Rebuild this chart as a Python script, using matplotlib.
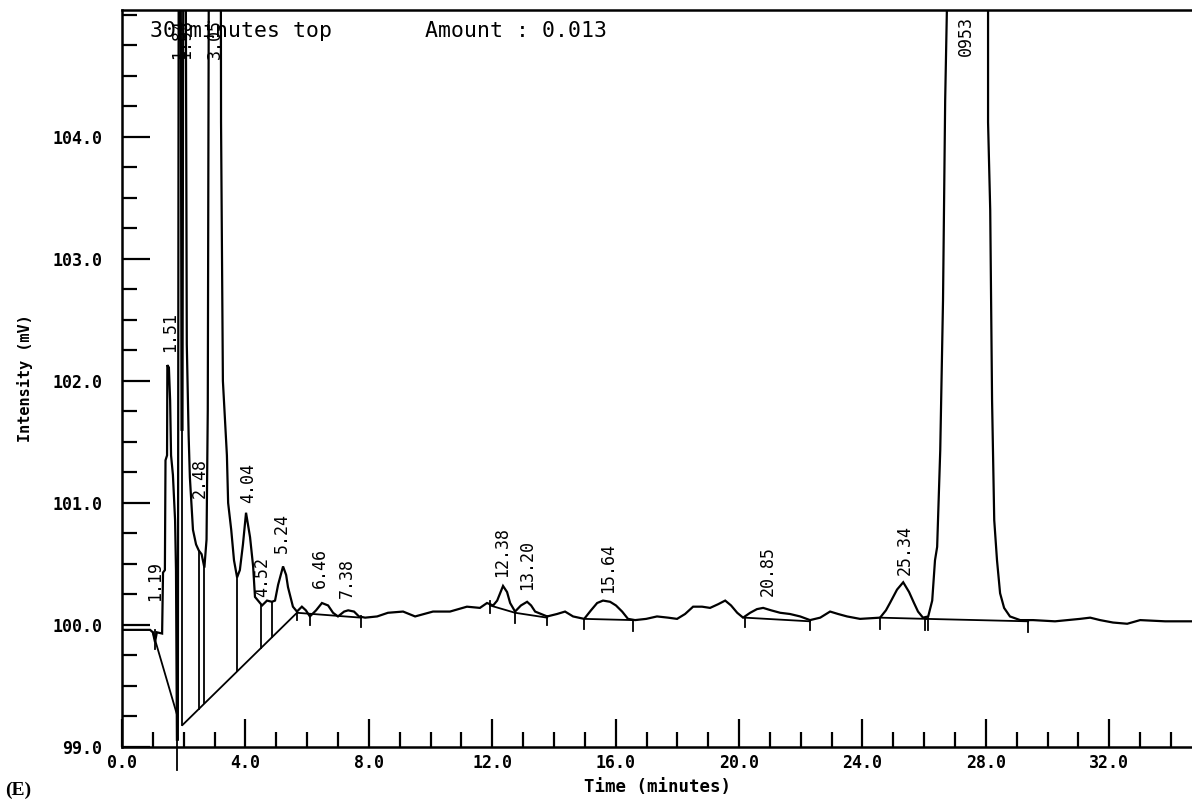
import matplotlib
matplotlib.use("Agg")
import matplotlib.pyplot as plt
from matplotlib.ticker import MultipleLocator, FixedLocator

# ---------------- data ----------------
trace_t = [0.0, 0.91, 1.00, 1.07, 1.13, 1.30, 1.33, 1.39, 1.41, 1.46, 1.47, 1.52, 1.56, 1.59,
           1.65, 1.72, 1.75, 1.78, 1.81, 1.84, 1.90, 1.93, 1.96, 1.99, 2.06, 2.10, 2.16, 2.20,
           2.30, 2.40, 2.49, 2.58, 2.67, 2.74, 2.78, 2.82, 3.20, 3.21, 3.27, 3.40, 3.44, 3.54,
           3.63, 3.73, 3.82, 3.92, 4.02, 4.15, 4.25, 4.31, 4.54, 4.70, 4.86, 4.96, 5.06, 5.22,
           5.32, 5.38, 5.54, 5.67, 5.83, 5.96, 6.09, 6.29, 6.48, 6.68, 6.84, 7.00, 7.20, 7.33,
           7.52, 7.68, 7.88, 8.27, 8.62, 9.11, 9.50, 10.08, 10.63, 11.18, 11.60, 11.83, 12.03,
           12.16, 12.35, 12.48, 12.58, 12.74, 12.93, 13.13, 13.26, 13.39, 13.78, 14.10, 14.36,
           14.62, 14.98, 15.20, 15.40, 15.59, 15.82, 16.01, 16.21, 16.40, 16.63, 16.99, 17.34,
           17.70, 17.99, 18.25, 18.51, 18.80, 19.06, 19.32, 19.55, 19.74, 19.94, 20.13, 20.36,
           20.58, 20.78, 21.04, 21.33, 21.65, 21.98, 22.30, 22.63, 22.95, 23.21, 23.50, 23.92,
           24.57, 24.76, 24.89, 25.12, 25.32, 25.51, 25.67, 25.80, 25.96, 26.13, 26.26, 26.35,
           26.42, 26.52, 26.61, 26.68, 26.74, 27.40, 28.07, 28.07, 28.14, 28.20, 28.27, 28.36,
           28.46, 28.59, 28.78, 29.11, 29.53, 30.24, 31.05, 31.38, 31.70, 32.12, 32.58, 33.00,
           33.81, 34.68]
trace_v = [99.96, 99.96, 99.94, 99.86, 99.94, 99.93, 100.43, 100.45, 101.35, 101.39, 102.13,
           102.11, 101.84, 101.39, 101.23, 100.86, 100.45, 99.06, 99.06, 106.0, 106.0, 101.6,
           101.6, 106.0, 106.0, 102.3, 101.55, 101.21, 100.78, 100.66, 100.61, 100.58, 100.47,
           100.70, 101.76, 106.0, 106.0, 104.12, 102.0, 101.39, 101.0, 100.78, 100.53, 100.39,
           100.45, 100.66, 100.92, 100.72, 100.48, 100.23, 100.16, 100.20, 100.19, 100.20,
           100.33, 100.48, 100.41, 100.31, 100.15, 100.11, 100.15, 100.12, 100.07, 100.12,
           100.18, 100.16, 100.10, 100.07, 100.11, 100.12, 100.11, 100.07, 100.06, 100.07,
           100.10, 100.11, 100.07, 100.11, 100.11, 100.15, 100.14, 100.18, 100.16, 100.20,
           100.32, 100.27, 100.18, 100.11, 100.16, 100.19, 100.16, 100.11, 100.07, 100.09,
           100.11, 100.07, 100.05, 100.12, 100.18, 100.20, 100.19, 100.16, 100.11, 100.05,
           100.04, 100.05, 100.07, 100.06, 100.05, 100.09, 100.15, 100.15, 100.14, 100.17,
           100.20, 100.16, 100.10, 100.06, 100.10, 100.13, 100.14, 100.12, 100.10, 100.09,
           100.07, 100.04, 100.06, 100.11, 100.09, 100.07, 100.05, 100.06, 100.12, 100.18,
           100.29, 100.35, 100.27, 100.18, 100.11, 100.06, 100.07, 100.20, 100.53, 100.64,
           101.43, 102.66, 104.30, 105.12, 108.0, 105.12, 104.12, 103.40, 101.84, 100.86,
           100.53, 100.26, 100.14, 100.07, 100.04, 100.04, 100.03, 100.05, 100.06, 100.04,
           100.02, 100.01, 100.04, 100.03, 100.03]

# integrator baseline segments: (t0, v0, t1, v1)
base_t0 = [1.00, 1.96, 5.67, 11.93, 12.74, 14.98, 20.19, 24.57, 26.07]
base_v0 = [99.94, 99.18, 100.10, 100.16, 100.10, 100.05, 100.06, 100.06, 100.05]
base_t1 = [1.80, 5.67, 7.75, 12.74, 13.78, 16.56, 22.30, 26.07, 29.37]
base_v1 = [99.25, 100.10, 100.06, 100.10, 100.06, 100.04, 100.03, 100.05, 100.03]

# peak boundary (drop) lines: time, upper value, lower value
drop_t = [1.07, 1.79, 1.96, 2.49, 2.67, 3.73, 4.52, 4.86, 5.67, 6.09, 7.75, 11.93, 12.74,
          13.78, 14.98, 16.56, 20.19, 22.30, 24.57, 26.02, 26.12, 29.37]
drop_hi = [99.96, 99.06, 101.6, 100.61, 100.47, 100.39, 100.16, 100.19, 100.11, 100.08,
           100.07, 100.20, 100.11, 100.07, 100.05, 100.04, 100.06, 100.04, 100.06, 100.06,
           100.06, 100.04]
drop_lo = [99.80, 98.81, 99.18, 99.31, 99.36, 99.62, 99.81, 99.90, 100.04, 100.00, 99.98,
           100.10, 100.02, 100.00, 99.97, 99.95, 99.98, 99.96, 99.97, 99.96, 99.96, 99.94]

# peak labels (rotated retention times)
label_txt = ["1.19", "1.51", "1.84", "1.98", "3.05", "2.48", "4.04", "4.52", "5.24", "6.46",
             "7.38", "12.38", "13.20", "15.64", "20.85", "25.34", "0953"]
label_t = [1.07, 1.56, 1.86, 2.04, 3.01, 2.53, 4.08, 4.54, 5.19, 6.42, 7.29, 12.32, 13.13,
           15.75, 20.94, 25.38, 27.36]
label_v = [100.20, 102.24, 104.64, 104.64, 104.64, 101.04, 101.00, 100.23, 100.59, 100.30,
           100.22, 100.39, 100.29, 100.26, 100.24, 100.41, 104.66]

x_major = [0.0, 4.0, 8.0, 12.0, 16.0, 20.0, 24.0, 28.0, 32.0]
y_major = [99.0, 100.0, 101.0, 102.0, 103.0, 104.0]

# ---------------- figure ----------------
MONO = "DejaVu Sans Mono"
fig = plt.figure(figsize=(11.92, 8.01), dpi=100)
ax = fig.add_axes([122 / 1192, 54 / 801, 1070 / 1192, 737 / 801])
ax.set_xlim(0, 34.68)
ax.set_ylim(99.0, 105.04)

lw = 1.6
ax.plot(trace_t, trace_v, color="black", lw=lw, solid_joinstyle="miter")
for a, b, c, d in zip(base_t0, base_v0, base_t1, base_v1):
    ax.plot([a, c], [b, d], color="black", lw=1.3)
for t, hi, lo in zip(drop_t, drop_hi, drop_lo):
    ax.plot([t, t], [lo, hi], color="black", lw=1.3, clip_on=False)

for s, t, v in zip(label_txt, label_t, label_v):
    ax.text(t, v, s, rotation=90, ha="center", va="bottom", fontsize=12,
            family=MONO, color="black")

ax.text(150 / 1192, 1 - 31 / 801, "30 minutes top", transform=fig.transFigure,
        fontsize=15.5, family=MONO, va="center", ha="left")
ax.text(425 / 1192, 1 - 31 / 801, "Amount : 0.013", transform=fig.transFigure,
        fontsize=15.5, family=MONO, va="center", ha="left")

# spines
for side in ["left", "top", "bottom"]:
    ax.spines[side].set_linewidth(1.8)
ax.spines["right"].set_visible(False)

ax.xaxis.set_major_locator(FixedLocator(x_major))
ax.xaxis.set_minor_locator(MultipleLocator(1.0))
ax.yaxis.set_major_locator(FixedLocator(y_major))
ax.yaxis.set_minor_locator(MultipleLocator(0.25))
ax.set_xticklabels([f"{v:.1f}" for v in x_major], family=MONO, fontsize=12,
                   weight="bold")
ax.set_yticklabels([f"{v:.1f}" for v in y_major], family=MONO, fontsize=12,
                   weight="bold")
ax.tick_params(axis="both", which="major", direction="in", length=20, width=1.6)
ax.tick_params(axis="both", which="minor", direction="in", length=11, width=1.6)
ax.tick_params(axis="y", which="major", pad=14)
ax.tick_params(axis="x", which="major", pad=5)

ax.set_xlabel("Time (minutes)", family=MONO, fontsize=12.5, weight="bold", labelpad=4)
ax.set_ylabel("Intensity (mV)", family=MONO, fontsize=11, weight="bold", labelpad=14)

fig.text(5 / 1192, 1 - 790 / 801, "(E)", family="Liberation Serif", weight="bold",
         fontsize=14, va="center", ha="left")

fig.savefig("out.png", dpi=100, facecolor="white")
